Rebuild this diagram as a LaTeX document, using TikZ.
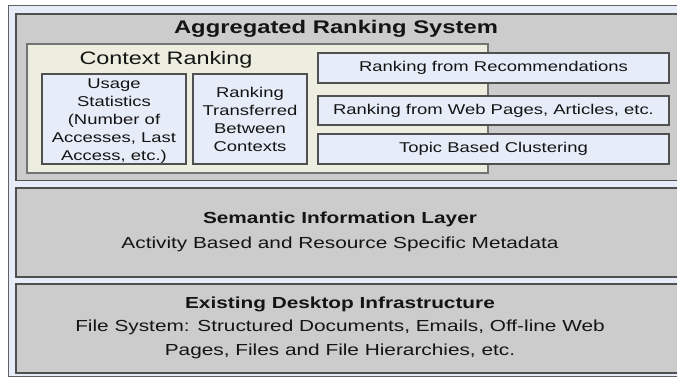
\documentclass[tikz,border=0pt]{standalone}
\usepackage{fontspec}
\setmainfont{Liberation Sans}
\definecolor{frameblue}{HTML}{E6ECF8}
\definecolor{boxgray}{HTML}{CCCCCC}
\definecolor{ctxbeige}{HTML}{EDEDE0}
\definecolor{edgegray}{HTML}{505050}
\definecolor{txtcol}{HTML}{141414}
\newcommand{\wtxt}[1]{\scalebox{1.3}[1]{#1}}
\newcommand{\stackc}[1]{\begin{tabular}{@{}c@{}}#1\end{tabular}}
\tikzset{
  layerbox/.style={fill=boxgray, draw=edgegray, line width=1.3pt},
  ctxbox/.style={fill=ctxbeige, draw=edgegray!80, line width=1.1pt},
  itembox/.style={fill=frameblue, draw=edgegray, line width=1.1pt},
  txt/.style={inner sep=0pt, text=txtcol, align=center},
}
\begin{document}
\begin{tikzpicture}[x=1pt,y=-1pt]
\path[use as bounding box] (0,0) rectangle (677,377);
\clip (0,0) rectangle (677,377);
\fill[white] (0,0) rectangle (677,377);
% outer frame
\draw[fill=frameblue, draw=edgegray!90, line width=1pt] (8,5.5) rectangle (700,376.5);
% layers
\draw[layerbox] (16,14) rectangle (700,180.5);
\draw[layerbox] (16,188) rectangle (700,277);
\draw[layerbox] (16,284) rectangle (700,373);
% context ranking box
\draw[ctxbox] (27,44) rectangle (488,173);
% item boxes
\draw[itembox] (42,74) rectangle (186,164);
\draw[itembox] (193,74) rectangle (307,164);
\draw[itembox] (318,53) rectangle (669,83);
\draw[itembox] (318,96) rectangle (669,125);
\draw[itembox] (318,134) rectangle (669,164);
% texts
\node[txt] (title) at (336,29) {\wtxt{\fontsize{18.3}{22}\selectfont\bfseries Aggregated Ranking System}};
\node[txt] (ctx) at (166,60) {\wtxt{\fontsize{18}{21}\selectfont Context Ranking}};
\node[txt] (usage) at (114,121) {\wtxt{\fontsize{14.2}{18}\selectfont\stackc{Usage\\Statistics\\(Number of\\Accesses, Last\\Access, etc.)}}};
\node[txt] (transf) at (250,121) {\wtxt{\fontsize{14.2}{17.7}\selectfont\stackc{Ranking\\Transferred\\Between\\Contexts}}};
\node[txt] (rec) at (493.5,68) {\wtxt{\fontsize{14.2}{17}\selectfont Ranking from Recommendations}};
\node[txt] (web) at (493.5,110.5) {\wtxt{\fontsize{14.2}{17}\selectfont Ranking from Web Pages, Articles, etc.}};
\node[txt] (topic) at (493.5,149) {\wtxt{\fontsize{14.2}{17}\selectfont Topic Based Clustering}};
\node[txt] (sem) at (340,231) {\wtxt{\fontsize{16}{25}\selectfont\stackc{\bfseries Semantic Information Layer\\Activity Based and Resource Specific Metadata}}};
\node[txt] (edi) at (340,327) {\wtxt{\fontsize{16}{23.5}\selectfont\stackc{\bfseries Existing Desktop Infrastructure\\File System: Structured Documents, Emails, Off-line Web\\Pages, Files and File Hierarchies, etc.}}};
\end{tikzpicture}
\end{document}
